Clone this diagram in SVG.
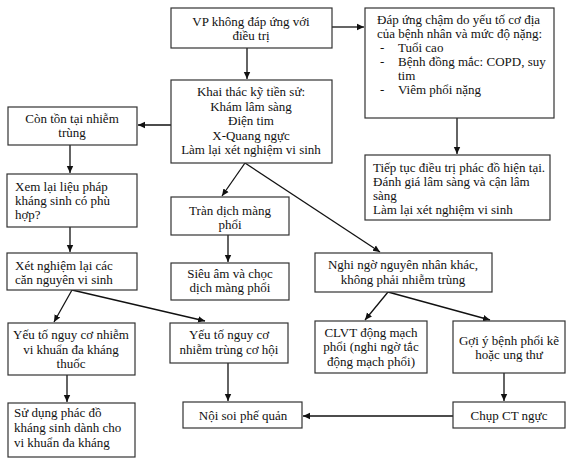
<svg xmlns="http://www.w3.org/2000/svg" width="569" height="466" viewBox="0 0 569 466">
<style>
rect{fill:#fff;stroke:#333;stroke-width:1.2}
text{font-family:"Liberation Serif","Times New Roman",serif;font-size:13px;fill:#111}
.c{text-anchor:middle}
#connectors line{stroke:#111;stroke-width:1.3}
</style>
<defs>
<marker id="ah" markerWidth="8" markerHeight="8" refX="7" refY="4" orient="auto" markerUnits="userSpaceOnUse">
<path d="M0,0.8 L7,4 L0,7.2 Z" fill="#111"/>
</marker>
</defs>
<rect x="0" y="0" width="569" height="466" style="fill:#fff;stroke:none"/>
<g id="connectors">
<line x1="332" y1="27" x2="364" y2="27" marker-end="url(#ah)"/>
<line x1="247" y1="48" x2="247" y2="79" marker-end="url(#ah)"/>
<line x1="457" y1="118" x2="457" y2="154" marker-end="url(#ah)"/>
<line x1="171" y1="125" x2="138" y2="125" marker-end="url(#ah)"/>
<line x1="70" y1="145" x2="70" y2="173" marker-end="url(#ah)"/>
<line x1="70" y1="227" x2="70" y2="252" marker-end="url(#ah)"/>
<line x1="72" y1="290" x2="54" y2="322" marker-end="url(#ah)"/>
<line x1="72" y1="290" x2="205" y2="321" marker-end="url(#ah)"/>
<line x1="245" y1="163" x2="222" y2="196" marker-end="url(#ah)"/>
<line x1="245" y1="163" x2="380" y2="252" marker-end="url(#ah)"/>
<line x1="228" y1="235" x2="228" y2="262" marker-end="url(#ah)"/>
<line x1="388" y1="292" x2="365" y2="320" marker-end="url(#ah)"/>
<line x1="388" y1="292" x2="490" y2="320" marker-end="url(#ah)"/>
<line x1="67" y1="375" x2="67" y2="402" marker-end="url(#ah)"/>
<line x1="228" y1="363" x2="228" y2="401" marker-end="url(#ah)"/>
<line x1="504" y1="373" x2="504" y2="401" marker-end="url(#ah)"/>
<line x1="453" y1="416" x2="303" y2="416" marker-end="url(#ah)"/>
</g>
<g id="n1"><rect x="171" y="8" width="161" height="40"/>
<text class="c" x="251" y="26">VP không đáp ứng với</text>
<text class="c" x="251" y="40">điều trị</text></g>
<g id="n2"><rect x="365" y="8" width="189" height="110"/>
<text x="377" y="24">Đáp ứng chậm do yếu tố cơ địa</text>
<text x="377" y="38">của bệnh nhân và mức độ nặng:</text>
<text x="380" y="52">-</text><text x="398" y="52">Tuổi cao</text>
<text x="380" y="66">-</text><text x="398" y="66">Bệnh đồng mắc: COPD, suy</text>
<text x="398" y="80">tim</text>
<text x="380" y="94">-</text><text x="398" y="94">Viêm phổi nặng</text></g>
<g id="n3"><rect x="171" y="80" width="161" height="83"/>
<text class="c" x="251" y="96">Khai thác kỹ tiền sử:</text>
<text class="c" x="251" y="111">Khám lâm sàng</text>
<text class="c" x="251" y="125">Điện tim</text>
<text class="c" x="251" y="140">X-Quang ngực</text>
<text class="c" x="251" y="154">Làm lại xét nghiệm vi sinh</text></g>
<g id="n4"><rect x="365" y="155" width="185" height="65"/>
<text x="373" y="172">Tiếp tục điều trị phác đồ hiện tại.</text>
<text x="373" y="186">Đánh giá lâm sàng và cận lâm</text>
<text x="373" y="200">sàng</text>
<text x="373" y="214">Làm lại xét nghiệm vi sinh</text></g>
<g id="n5"><rect x="8" y="107" width="129" height="38"/>
<text class="c" x="72" y="123">Còn tồn tại nhiễm</text>
<text class="c" x="72" y="137">trùng</text></g>
<g id="n6"><rect x="7" y="174" width="130" height="53"/>
<text x="15" y="191">Xem lại liệu pháp</text>
<text x="15" y="205">kháng sinh có phù</text>
<text x="15" y="219">hợp?</text></g>
<g id="n7"><rect x="7" y="253" width="130" height="37"/>
<text x="15" y="270">Xét nghiệm lại các</text>
<text x="15" y="284">căn nguyên vi sinh</text></g>
<g id="n8"><rect x="171" y="197" width="118" height="38"/>
<text class="c" x="230" y="215">Tràn dịch màng</text>
<text class="c" x="230" y="229">phổi</text></g>
<g id="n9"><rect x="171" y="263" width="118" height="37"/>
<text class="c" x="230" y="278">Siêu âm và chọc</text>
<text class="c" x="230" y="292">dịch màng phổi</text></g>
<g id="n10"><rect x="315" y="253" width="177" height="39"/>
<text class="c" x="403" y="269">Nghi ngờ nguyên nhân khác,</text>
<text class="c" x="403" y="284">không phải nhiễm trùng</text></g>
<g id="n11"><rect x="8" y="323" width="127" height="52"/>
<text class="c" x="71" y="339">Yếu tố nguy cơ nhiễm</text>
<text class="c" x="71" y="354">vi khuẩn đa kháng</text>
<text class="c" x="71" y="368">thuốc</text></g>
<g id="n12"><rect x="170" y="323" width="118" height="40"/>
<text class="c" x="229" y="339">Yếu tố nguy cơ</text>
<text class="c" x="229" y="354">nhiễm trùng cơ hội</text></g>
<g id="n13"><rect x="315" y="321" width="112" height="52"/>
<text class="c" x="371" y="337">CLVT động mạch</text>
<text class="c" x="371" y="351">phổi (nghi ngờ tắc</text>
<text class="c" x="371" y="366">động mạch phổi)</text></g>
<g id="n14"><rect x="453" y="321" width="112" height="52"/>
<text class="c" x="509" y="345">Gợi ý bệnh phổi kẽ</text>
<text class="c" x="509" y="359">hoặc ung thư</text></g>
<g id="n15"><rect x="8" y="403" width="127" height="54"/>
<text x="14" y="417">Sử dụng phác đồ</text>
<text x="14" y="432">kháng sinh dành cho</text>
<text x="14" y="447">vi khuẩn đa kháng</text></g>
<g id="n16"><rect x="183" y="402" width="119" height="26"/>
<text class="c" x="243" y="420">Nội soi phế quản</text></g>
<g id="n17"><rect x="453" y="402" width="112" height="26"/>
<text class="c" x="509" y="420">Chụp CT ngực</text></g>
</svg>
